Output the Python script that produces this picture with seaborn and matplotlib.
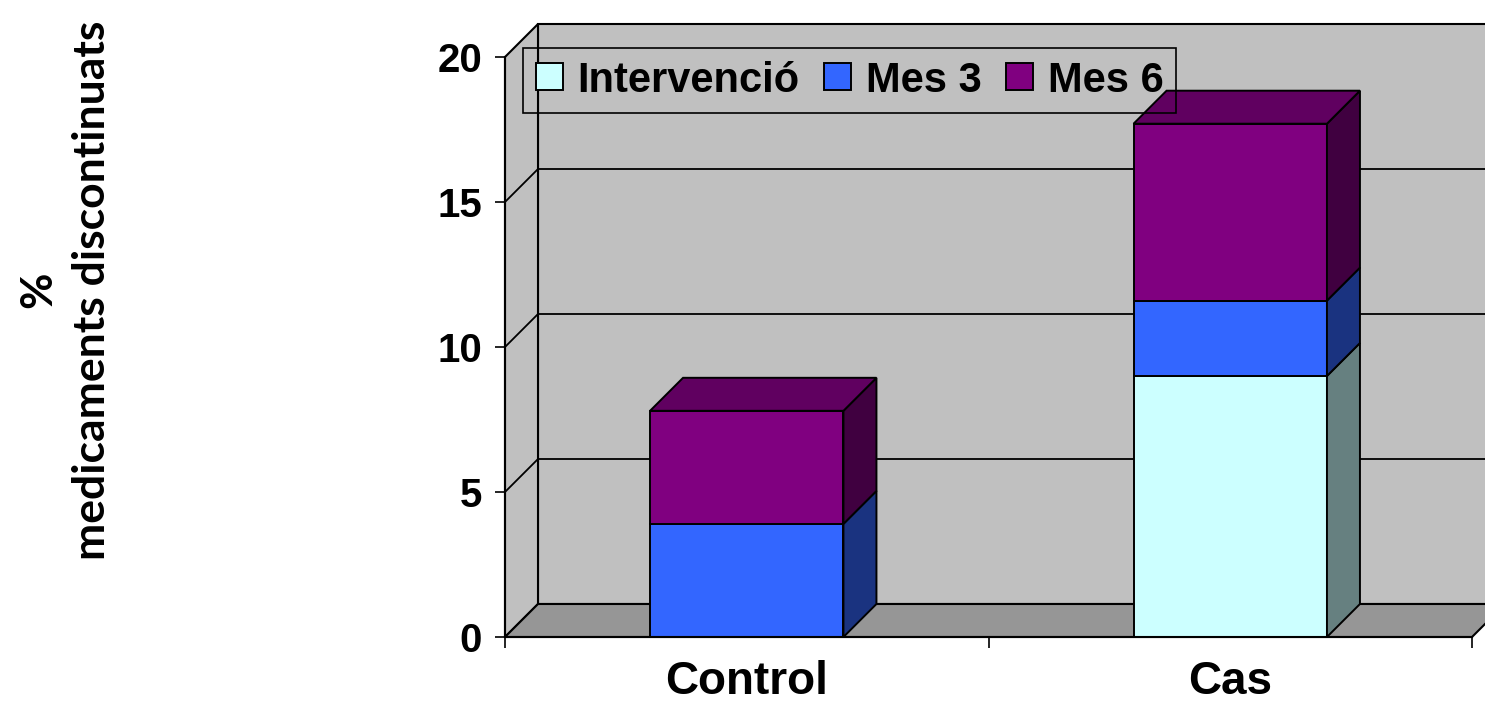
import matplotlib
matplotlib.use("Agg")
import matplotlib.pyplot as plt
from matplotlib.patches import Polygon
from matplotlib.colors import to_rgb
import numpy as np
import pandas as pd
import seaborn as sns

# Data: % of discontinued medications per group, stacked by follow-up period
categories = ["Control", "Cas"]
series_names = ["Intervenció", "Mes 3", "Mes 6"]
intervencio = [0.0, 9.0]
mes3 = [3.9, 2.6]
mes6 = [3.9, 6.1]
series_colors = ["#CCFFFF", "#3366FF", "#800080"]
y_ticks = [0, 5, 10, 15, 20]
y_label = "%\nmedicaments discontinuats"

plt.rcParams["font.family"] = ["Liberation Sans", "DejaVu Sans"]
plt.rcParams["font.weight"] = "bold"

W, H = 1485, 707
fig = plt.figure(figsize=(W / 100, H / 100), dpi=100)
ax_left, ax_bottom, ax_w, ax_h = 505, 70, 967, 580  # front plane, pixels
ax = fig.add_axes([ax_left / W, ax_bottom / H, ax_w / W, ax_h / H])
ax.set_facecolor("none")

edge_lw = 1.4

# stacked bars through seaborn
series = [intervencio, mes3, mes6]
bottom = np.zeros(len(categories))
for name, vals, col in zip(series_names, series, series_colors):
    df = pd.DataFrame({"grup": categories, "valor": vals})
    sns.barplot(data=df, x="grup", y="valor", order=categories, color=col,
                saturation=1, width=0.4, errorbar=None, edgecolor="black",
                linewidth=edge_lw, bottom=bottom.copy(), ax=ax, zorder=2)
    bottom += np.array(vals)
totals = bottom

x_lo, x_hi = -0.5, len(categories) - 0.5
y_lo, y_hi = y_ticks[0], y_ticks[-1]
ax.set_xlim(x_lo, x_hi)
ax.set_ylim(y_lo, y_hi)

# depth of the pseudo-3D extrusion, converted from pixels to data units
depth_px = 33
dx = depth_px * (x_hi - x_lo) / ax_w
dy = depth_px * (y_hi - y_lo) / ax_h


def shade(color, f):
    return tuple(c * f for c in to_rgb(color))


# walls, floor and gridlines
wall_kw = dict(ec="black", lw=1.5, clip_on=False, closed=True)
ax.add_patch(Polygon([(x_lo + dx, y_lo + dy), (x_hi + dx, y_lo + dy),
                      (x_hi + dx, y_hi + dy), (x_lo + dx, y_hi + dy)],
                     fc="#C0C0C0", zorder=0.1, **wall_kw))
ax.add_patch(Polygon([(x_lo, y_lo), (x_lo + dx, y_lo + dy),
                      (x_lo + dx, y_hi + dy), (x_lo, y_hi)],
                     fc="#C0C0C0", zorder=0.1, **wall_kw))
for v in y_ticks[1:-1]:
    ax.plot([x_lo, x_lo + dx, x_hi + dx], [v, v + dy, v + dy],
            color="black", lw=1.3, zorder=0.2, clip_on=False)
ax.add_patch(Polygon([(x_lo, y_lo), (x_hi, y_lo), (x_hi + dx, y_lo + dy),
                      (x_lo + dx, y_lo + dy)],
                     fc="#969696", zorder=0.3, **wall_kw))

# side and top faces of every bar segment
for cont, col in zip(ax.containers, series_colors):
    for rect in cont.patches:
        x0, y0 = rect.get_x(), rect.get_y()
        w, h = rect.get_width(), rect.get_height()
        if h <= 0:
            continue
        x1, y1 = x0 + w, y0 + h
        ax.add_patch(Polygon([(x1, y0), (x1 + dx, y0 + dy), (x1 + dx, y1 + dy), (x1, y1)],
                             closed=True, fc=shade(col, 0.5), ec="black", lw=edge_lw, zorder=2))
        if np.isclose(y1, totals[int(round(x0 + w / 2))]):
            ax.add_patch(Polygon([(x0, y1), (x1, y1), (x1 + dx, y1 + dy), (x0 + dx, y1 + dy)],
                                 closed=True, fc=shade(col, 0.75), ec="black", lw=edge_lw, zorder=2))

# axes styling
for s in ["top", "right"]:
    ax.spines[s].set_visible(False)
for s in ["left", "bottom"]:
    ax.spines[s].set_linewidth(1.5)
    ax.spines[s].set_color("black")

ax.set_yticks(y_ticks)
ax.tick_params(axis="y", length=7.2, width=1.2, pad=9.4, labelsize=29, direction="out")
ax.set_xticks(range(len(categories)))
ax.set_xticklabels(categories)
ax.set_xticks(np.arange(x_lo, x_hi + 0.01, 1.0), minor=True)
ax.tick_params(axis="x", which="major", length=0, pad=16.5, labelsize=33)
ax.tick_params(axis="x", which="minor", length=8, width=1.2, direction="out")
ax.set_xlabel("")

ax.set_ylabel(y_label, fontfamily=["Lato", "DejaVu Sans"], fontweight="bold",
              fontsize=32, linespacing=1.43)
ax.yaxis.set_label_coords(-0.406, 0.598)

leg = ax.legend(handles=ax.containers[:3], labels=series_names, loc="upper left",
                bbox_to_anchor=(523 / W, 1 - 48 / H), bbox_transform=fig.transFigure,
                ncol=3, fontsize=30, frameon=True, fancybox=False, framealpha=1,
                borderpad=0.3, handlelength=0.65, handleheight=0.62,
                handletextpad=0.36, columnspacing=0.58, borderaxespad=0)
frame = leg.get_frame()
frame.set_facecolor("none")
frame.set_edgecolor("black")
frame.set_linewidth(1.2)
leg.set_zorder(5)

fig.savefig("out.png", dpi=100)
